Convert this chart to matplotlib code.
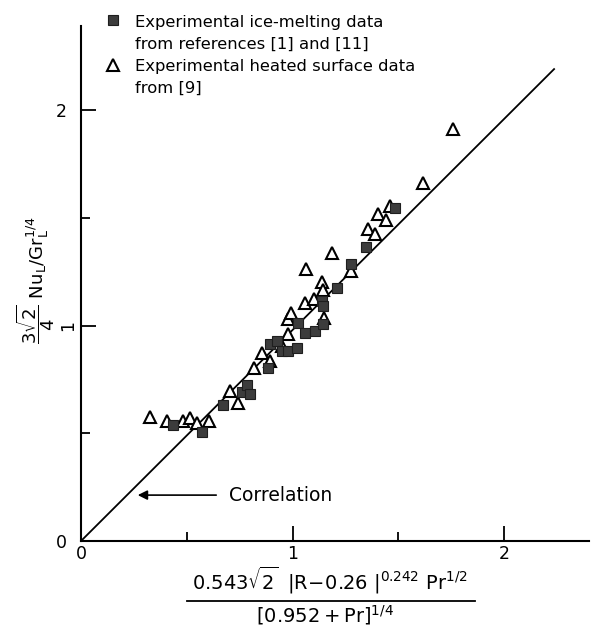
import matplotlib
matplotlib.use("Agg")
import matplotlib.pyplot as plt
from matplotlib.lines import Line2D
from matplotlib.ticker import FixedLocator

plt.rcParams['font.family'] = ['DejaVu Sans']
plt.rcParams['mathtext.fontset'] = 'dejavusans'
plt.rcParams['mathtext.default'] = 'regular'

# Ice-melting data, references [1] and [11]
ice_x = [0.436, 0.573, 0.671, 0.759, 0.783, 0.800, 0.885, 0.893, 0.925,
         0.948, 0.980, 1.019, 1.027, 1.059, 1.106, 1.145, 1.137, 1.145,
         1.208, 1.274, 1.347, 1.484]
ice_y = [0.538, 0.506, 0.632, 0.692, 0.723, 0.682, 0.801, 0.913, 0.928,
         0.882, 0.882, 0.897, 1.010, 0.967, 0.974, 1.006, 1.114, 1.090,
         1.175, 1.287, 1.364, 1.547]

# Heated surface data, reference [9]
heat_x = [0.326, 0.405, 0.484, 0.515, 0.550, 0.606, 0.704, 0.742, 0.818,
          0.854, 0.893, 0.948, 0.980, 0.980, 0.992, 1.059, 1.102, 1.150,
          1.137, 1.142, 1.063, 1.185, 1.276, 1.358, 1.389, 1.405, 1.441,
          1.460, 1.618, 1.757]
heat_y = [0.575, 0.557, 0.557, 0.571, 0.549, 0.555, 0.694, 0.642, 0.804,
          0.874, 0.835, 0.905, 0.959, 1.029, 1.056, 1.104, 1.125, 1.037,
          1.203, 1.166, 1.263, 1.338, 1.253, 1.446, 1.423, 1.516, 1.490,
          1.553, 1.663, 1.910]

# Correlation line end points
corr_x = [0.0, 2.235]
corr_y = [0.0, 2.19]

major_ticks = [0, 1, 2]
minor_ticks = [0.5, 1.5]
tick_labels = ['0', '1', '2']

W, H = 593, 626
fig = plt.figure(figsize=(W / 100, H / 100), dpi=100)
ax = fig.add_axes([81 / W, 1 - 541 / H, 508 / W, 515 / H])

ax.plot(corr_x, corr_y, color='black', lw=1.3, zorder=2)
ax.plot(heat_x, heat_y, linestyle='none', marker='^', markersize=8.5,
        markerfacecolor='white', markeredgecolor='black', markeredgewidth=1.5,
        zorder=3)
ax.plot(ice_x, ice_y, linestyle='none', marker='s', markersize=7.5,
        markerfacecolor='#3c3c3c', markeredgecolor='#1e1e1e', markeredgewidth=0.8,
        zorder=4)

ax.set_xlim(0, 2.4)
ax.set_ylim(0, 2.39)
for side in ('top', 'right'):
    ax.spines[side].set_visible(False)
for side in ('left', 'bottom'):
    ax.spines[side].set_linewidth(1.5)

for axis in (ax.xaxis, ax.yaxis):
    axis.set_major_locator(FixedLocator(major_ticks))
    axis.set_minor_locator(FixedLocator(minor_ticks))
ax.set_xticklabels(tick_labels)
ax.set_yticklabels(tick_labels)
ax.tick_params(which='major', direction='in', length=10.5, width=1.3,
               labelsize=12.5)
ax.tick_params(axis='x', which='major', pad=3)
ax.tick_params(axis='y', which='major', pad=10)
ax.tick_params(which='minor', direction='in', length=6.5, width=1.3)
# the middle y label is set sideways, close to the axis
mid_tick = ax.yaxis.get_major_ticks()[1]
mid_tick.set_pad(3)
mid_tick.label1.set_rotation(90)
mid_tick.label1.set_va('center')

# Correlation pointer
ax.annotate('', xy=(0.255, 0.213), xytext=(0.652, 0.213),
            arrowprops=dict(arrowstyle='-|>', color='black', lw=1.2,
                            mutation_scale=14))
ax.text(0.70, 0.213, 'Correlation', fontsize=13.5, va='center', ha='left')

# Legend drawn by hand
fig.add_artist(Line2D([113 / W], [1 - 20 / H], marker='s', markersize=7.5,
                      markerfacecolor='#3c3c3c', markeredgecolor='#1e1e1e',
                      markeredgewidth=0.8, transform=fig.transFigure))
fig.add_artist(Line2D([113 / W], [1 - 65 / H], marker='^', markersize=8.5,
                      markerfacecolor='white', markeredgecolor='black',
                      markeredgewidth=1.5, transform=fig.transFigure))
leg_lines = [('Experimental ice-melting data', 26.7),
             ('from references [1] and [11]', 48.5),
             ('Experimental heated surface data', 70.7),
             ('from [9]', 92.7)]
for txt, yb in leg_lines:
    fig.text(135 / W, 1 - yb / H, txt, fontsize=11.8, va='baseline', ha='left')

# Axis titles
fig.text(36 / W, 1 - 280 / H,
         r'$\dfrac{3\sqrt{2}}{4}\ Nu_L/Gr_L^{1/4}$',
         rotation=90, fontsize=13, ha='center', va='center')

fig.text(330 / W, 1 - 580 / H,
         r'$0.543\sqrt{2}\;\;|R\!-\!0.26\ |^{0.242}\ Pr^{1/2}$',
         fontsize=14, ha='center', va='center')
fig.add_artist(Line2D([187 / W, 475 / W], [1 - 601 / H, 1 - 601 / H],
                      color='black', lw=1.3, transform=fig.transFigure))
fig.text(325 / W, 1 - 615 / H, r'$[0.952 + Pr]^{1/4}$',
         fontsize=14, ha='center', va='center')

fig.savefig('out.png', dpi=100)
